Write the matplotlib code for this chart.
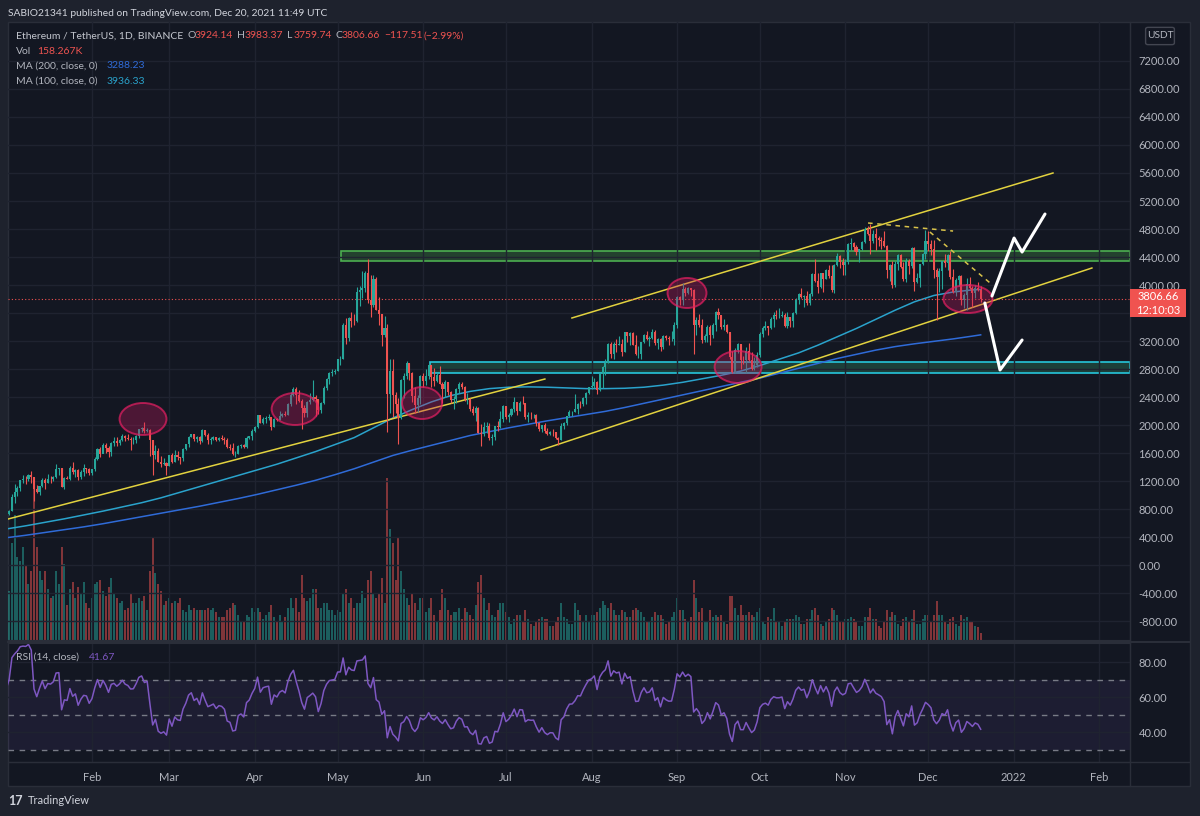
import numpy as np
import pandas as pd
import matplotlib
matplotlib.use('Agg')
import matplotlib.pyplot as plt
import matplotlib.dates as mdates
from matplotlib.patches import Ellipse, Rectangle, FancyBboxPatch
from matplotlib.lines import Line2D

plt.rcParams['font.family'] = ['Lato', 'DejaVu Sans']

# ---------------- data (ETH/USDT daily, Binance, 2021) ----------------
dates = pd.date_range('2021-01-01', '2021-12-20', freq='D')
first_open = 737.0

closes = [
    # Jan
    730, 775, 978, 1041, 1100, 1208, 1225, 1224, 1281, 1262, 1090, 1044, 1130, 1218, 1171, 1233,
    1230, 1257, 1377, 1382, 1121, 1236, 1231, 1391, 1324, 1357, 1253, 1331, 1382, 1377, 1314,
    # Feb
    1369, 1515, 1660, 1593, 1720, 1677, 1614, 1750, 1768, 1744, 1783, 1843, 1814, 1804, 1779, 1782,
    1846, 1937, 1959, 1919, 1935, 1781, 1570, 1626, 1475, 1446, 1459, 1416,
    # Mar
    1565, 1477, 1574, 1540, 1533, 1654, 1724, 1834, 1868, 1798, 1826, 1770, 1924, 1855, 1791, 1806,
    1822, 1782, 1812, 1806, 1783, 1681, 1669, 1583, 1588, 1702, 1716, 1691, 1819, 1846, 1918,
    # Apr
    1977, 2143, 2028, 2093, 2107, 2115, 1971, 2089, 2071, 2135, 2157, 2139, 2300, 2434, 2519, 2431,
    2349, 2238, 2166, 2330, 2362, 2399, 2365, 2209, 2316, 2532, 2662, 2746, 2757, 2772,
    # May
    2945, 2949, 3431, 3240, 3524, 3490, 3483, 3902, 3928, 3952, 4168, 3785, 3715, 4079, 3641, 3586,
    3282, 3381, 2441, 2773, 2428, 2295, 2100, 2643, 2706, 2888, 2737, 2419, 2280, 2387, 2707,
    # Jun
    2634, 2706, 2856, 2689, 2628, 2715, 2589, 2517, 2609, 2472, 2353, 2372, 2508, 2584, 2547, 2368,
    2370, 2232, 2178, 2245, 1888, 1876, 1969, 1990, 1812, 1829, 1982, 1971, 2086, 2275,
    # Jul
    2110, 2150, 2222, 2325, 2197, 2321, 2316, 2116, 2147, 2138, 2140, 2033, 1941, 1995, 1913, 1877,
    1897, 1895, 1819, 1787, 1991, 2026, 2124, 2188, 2191, 2232, 2300, 2298, 2383, 2462, 2537,
    # Aug
    2557, 2608, 2507, 2725, 2827, 2890, 3157, 3013, 3163, 3141, 3164, 3049, 3322, 3266, 3310, 3147,
    3012, 3018, 3182, 3286, 3226, 3241, 3322, 3173, 3225, 3108, 3272, 3242, 3225, 3228, 3430,
    # Sep
    3823, 3786, 3937, 3887, 3952, 3927, 3427, 3496, 3426, 3211, 3266, 3406, 3287, 3429, 3613, 3572,
    3397, 3434, 3330, 2978, 2762, 3077, 3152, 2926, 2925, 3064, 2931, 2806, 2851, 3001,
    # Oct
    3307, 3390, 3418, 3382, 3515, 3577, 3560, 3562, 3576, 3414, 3541, 3491, 3606, 3790, 3866, 3826,
    3848, 3746, 3876, 4155, 4056, 3971, 4170, 4084, 4216, 4130, 3924, 4287, 4414, 4323, 4288,
    # Nov
    4324, 4586, 4603, 4536, 4475, 4518, 4610, 4807, 4730, 4630, 4722, 4666, 4646, 4624, 4563, 4210,
    4287, 3996, 4295, 4424, 4262, 4088, 4339, 4270, 4523, 4040, 4096, 4294, 4444, 4632,
    # Dec
    4582, 4512, 4220, 4118, 4195, 4346, 4308, 4432, 4112, 3894, 4073, 4134, 3780, 3861, 4019, 3963,
    3888, 3958, 3924.14, 3806.66,
]

highs = [
    # Jan
    749, 787, 1011, 1162, 1135, 1210, 1282, 1266, 1300, 1347, 1263, 1150, 1135, 1248, 1250, 1295,
    1266, 1268, 1438, 1393, 1390, 1258, 1273, 1418, 1475, 1365, 1365, 1355, 1437, 1393, 1383,
    # Feb
    1375, 1540, 1665, 1693, 1737, 1738, 1697, 1763, 1824, 1829, 1800, 1871, 1851, 1874, 1825, 1834,
    1863, 1937, 1974, 2041, 1961, 1938, 1782, 1711, 1672, 1559, 1525, 1468,
    # Mar
    1569, 1598, 1650, 1622, 1546, 1669, 1733, 1840, 1875, 1878, 1839, 1840, 1947, 1932, 1887, 1834,
    1838, 1834, 1832, 1859, 1822, 1814, 1724, 1740, 1625, 1710, 1730, 1726, 1838, 1850, 1943,
    # Apr
    1993, 2150, 2145, 2110, 2129, 2152, 2117, 2100, 2100, 2198, 2165, 2206, 2320, 2470, 2545, 2547,
    2496, 2365, 2290, 2350, 2460, 2646, 2422, 2368, 2334, 2554, 2675, 2760, 2798, 2797,
    # May
    2950, 2985, 3458, 3531, 3541, 3610, 3590, 3965, 3982, 4200, 4195, 4372, 4148, 4140, 4120, 3835,
    3590, 3560, 3438, 2950, 2939, 2477, 2380, 2660, 2750, 2912, 2892, 2764, 2540, 2435, 2720,
    # Jun
    2738, 2799, 2890, 2857, 2817, 2743, 2845, 2620, 2640, 2620, 2490, 2410, 2525, 2620, 2613, 2557,
    2455, 2385, 2272, 2274, 2255, 2018, 2048, 2040, 2024, 1869, 1990, 2064, 2200, 2284,
    # Jul
    2275, 2165, 2238, 2400, 2325, 2348, 2410, 2320, 2190, 2190, 2160, 2155, 2045, 2005, 2033, 1962,
    1920, 1940, 1900, 1825, 2030, 2045, 2130, 2215, 2195, 2444, 2315, 2343, 2398, 2469, 2550,
    # Aug
    2700, 2665, 2630, 2750, 2840, 2950, 3170, 3185, 3180, 3230, 3275, 3235, 3331, 3330, 3330, 3335,
    3290, 3130, 3185, 3300, 3340, 3275, 3375, 3355, 3250, 3250, 3280, 3290, 3265, 3340, 3470,
    # Sep
    3840, 3840, 4025, 3970, 3970, 3955, 3945, 3550, 3580, 3510, 3300, 3430, 3430, 3460, 3630, 3675,
    3575, 3520, 3440, 3335, 3060, 3100, 3175, 3160, 2985, 3115, 3170, 3050, 2970, 3050,
    # Oct
    3335, 3420, 3490, 3420, 3545, 3615, 3640, 3675, 3624, 3607, 3615, 3550, 3615, 3815, 3890, 3960,
    3860, 3915, 3880, 4175, 4375, 4170, 4175, 4170, 4235, 4290, 4285, 4300, 4455, 4425, 4390,
    # Nov
    4375, 4600, 4665, 4610, 4565, 4520, 4630, 4825, 4840, 4868, 4780, 4810, 4700, 4690, 4770, 4565,
    4300, 4345, 4340, 4440, 4440, 4330, 4385, 4370, 4550, 4550, 4170, 4300, 4460, 4780,
    # Dec
    4778, 4640, 4650, 4240, 4240, 4350, 4440, 4440, 4480, 4230, 4105, 4150, 4140, 3880, 4100, 4120,
    3990, 4000, 4045, 3983.37,
]

lows = [
    # Jan
    715, 714, 769, 891, 986, 1062, 1168, 1152, 1200, 1167, 920, 1030, 998, 1110, 1083, 1165,
    1170, 1195, 1247, 1285, 1110, 1080, 1227, 1214, 1300, 1253, 1220, 1230, 1265, 1320, 1280,
    # Feb
    1293, 1348, 1505, 1536, 1597, 1606, 1540, 1563, 1705, 1697, 1712, 1769, 1770, 1780, 1650, 1726,
    1741, 1817, 1896, 1880, 1904, 1560, 1293, 1510, 1471, 1400, 1428, 1290,
    # Mar
    1410, 1460, 1475, 1505, 1440, 1485, 1636, 1690, 1827, 1776, 1755, 1730, 1754, 1840, 1727, 1730,
    1780, 1774, 1773, 1780, 1730, 1670, 1650, 1567, 1545, 1586, 1672, 1675, 1678, 1796, 1780,
    # Apr
    1904, 1958, 2023, 2011, 2023, 2074, 1935, 1970, 2052, 2065, 2110, 2126, 2136, 2270, 2420, 2300,
    2325, 1950, 2120, 2110, 2300, 2350, 2130, 2160, 2170, 2305, 2506, 2580, 2700, 2724,
    # May
    2765, 2860, 2944, 3157, 3206, 3400, 3430, 3470, 3700, 3810, 3900, 3750, 3550, 3690, 3640, 3423,
    3132, 3260, 1900, 2170, 2108, 2170, 1728, 2080, 2380, 2660, 2645, 2330, 2172, 2180, 2303,
    # Jun
    2540, 2570, 2660, 2550, 2556, 2615, 2580, 2320, 2400, 2430, 2311, 2230, 2310, 2454, 2520, 2345,
    2300, 2202, 2140, 2058, 1882, 1700, 1850, 1880, 1790, 1720, 1785, 1920, 1960, 2050,
    # Jul
    2090, 2050, 2128, 2180, 2145, 2197, 2300, 2085, 2047, 2090, 2095, 1985, 1920, 1900, 1885, 1852,
    1860, 1850, 1800, 1718, 1787, 1950, 2000, 2110, 2130, 2180, 2156, 2236, 2270, 2302, 2440,
    # Aug
    2515, 2525, 2450, 2490, 2530, 2720, 2880, 2960, 2950, 3050, 3140, 2980, 3040, 3180, 3150, 3140,
    2998, 2960, 2950, 3165, 3210, 3130, 3230, 3145, 3080, 3060, 3080, 3220, 3150, 3200, 3150,
    # Sep
    3385, 3720, 3720, 3837, 3870, 3840, 3010, 3280, 3400, 3170, 3180, 3190, 3150, 3245, 3350, 3520,
    3370, 3360, 3310, 2937, 2740, 2740, 3030, 2800, 2875, 2740, 2920, 2790, 2790, 2835,
    # Oct
    2970, 3260, 3360, 3280, 3365, 3395, 3510, 3530, 3540, 3395, 3390, 3400, 3400, 3590, 3730, 3820,
    3680, 3720, 3720, 3850, 4040, 3885, 3960, 3900, 4080, 4105, 3905, 3890, 4265, 4245, 4150,
    # Nov
    4150, 4300, 4500, 4490, 4435, 4330, 4500, 4600, 4710, 4450, 4600, 4500, 4560, 4520, 4540, 4100,
    4060, 3960, 3970, 4210, 4250, 4060, 4050, 4160, 4250, 3920, 4030, 3970, 4280, 4365,
    # Dec
    4490, 4430, 4100, 3500, 3900, 3950, 4260, 4220, 4090, 3880, 3840, 3980, 3715, 3670, 3650, 3950,
    3680, 3810, 3920, 3759.74,
]

# volume, thousands of ETH
volumes = [
    # Jan
    700, 1050, 2100, 2700, 1800, 1700, 2000, 1600, 1200, 1500, 3500, 2000, 1500, 1300, 1500, 1100,
    900, 950, 1500, 1200, 2000, 1650, 750, 1100, 1250, 900, 1150, 1000, 1250, 800, 700,
    # Feb
    900, 1200, 1250, 1300, 1050, 950, 1150, 1350, 1000, 900, 800, 850, 650, 700, 1000, 800,
    800, 900, 850, 950, 650, 1500, 2200, 1450, 1200, 1050, 750, 850,
    # Mar
    900, 800, 850, 800, 900, 650, 600, 750, 650, 700, 650, 650, 650, 650, 700, 650,
    700, 600, 500, 500, 500, 650, 700, 800, 750, 550, 400, 400, 550, 500, 700,
    # Apr
    600, 700, 600, 450, 550, 600, 750, 500, 400, 550, 400, 500, 700, 900, 700, 900,
    600, 1400, 900, 850, 900, 1100, 1100, 700, 700, 800, 800, 650, 650, 550,
    # May
    650, 600, 1000, 1100, 800, 900, 700, 800, 800, 1050, 900, 1300, 1500, 1000, 900, 1000,
    1350, 800, 3500, 2400, 2100, 1300, 2200, 1500, 1100, 900, 750, 1000, 800, 650, 900,
    # Jun
    900, 600, 700, 900, 550, 400, 650, 1100, 900, 650, 550, 600, 600, 700, 450, 700,
    600, 550, 450, 750, 1250, 1400, 900, 650, 800, 550, 500, 650, 800, 800,
    # Jul
    600, 500, 350, 450, 550, 550, 400, 650, 450, 350, 300, 400, 450, 500, 450, 450,
    300, 300, 400, 500, 800, 500, 450, 350, 350, 800, 650, 550, 400, 550, 400,
    # Aug
    550, 550, 600, 700, 850, 750, 700, 800, 650, 550, 550, 650, 600, 500, 500, 650,
    700, 650, 600, 500, 400, 400, 500, 600, 550, 550, 450, 350, 400, 500, 600,
    # Sep
    900, 650, 650, 450, 400, 500, 1300, 900, 600, 700, 400, 400, 650, 500, 550, 500,
    550, 400, 350, 950, 950, 700, 550, 750, 550, 550, 600, 550, 500, 600,
    # Oct
    700, 400, 350, 500, 450, 700, 400, 400, 300, 400, 450, 450, 450, 550, 500, 350,
    350, 450, 450, 650, 700, 550, 350, 300, 400, 450, 700, 650, 550, 400, 400,
    # Nov
    450, 450, 500, 450, 400, 300, 300, 500, 500, 700, 450, 450, 300, 250, 400, 650,
    500, 600, 550, 350, 300, 450, 500, 400, 450, 650, 350, 350, 450, 550,
    # Dec
    550, 400, 550, 850, 550, 550, 400, 350, 450, 500, 350, 300, 550, 450, 500, 400,
    400, 300, 280, 158.267,
]

# December 2020 closes, only used to warm up the RSI
dec2020_closes = [587, 598, 616, 569, 596, 601, 591, 568, 573, 560, 545, 568, 590, 586, 588, 636,
                  641, 654, 658, 638, 609, 634, 583, 612, 626, 635, 683, 731, 731, 751, 737]

# moving averages, one value per week (+ last bar)
ma_days = list(range(0, 351, 7)) + [353]
ma200 = [390, 425, 465, 505, 545, 590, 640, 690, 740, 790, 840, 895, 950, 1010, 1075, 1140,
         1210, 1290, 1375, 1470, 1565, 1640, 1710, 1780, 1850, 1905, 1960, 2010, 2060, 2105,
         2150, 2195, 2250, 2310, 2370, 2430, 2490, 2550, 2610, 2670, 2740, 2810, 2880, 2950,
         3010, 3070, 3120, 3160, 3195, 3230, 3270, 3288.23]
ma100 = [515, 560, 610, 660, 715, 770, 830, 890, 960, 1040, 1120, 1200, 1280, 1360, 1440, 1530,
         1620, 1720, 1820, 1960, 2100, 2220, 2330, 2420, 2480, 2520, 2540, 2545, 2540, 2530,
         2520, 2520, 2525, 2540, 2570, 2610, 2660, 2710, 2770, 2850, 2940, 3030, 3140, 3260,
         3380, 3510, 3640, 3760, 3850, 3900, 3930, 3936.33]

month_ticks = pd.to_datetime(['2021-02-01', '2021-03-01', '2021-04-01', '2021-05-01', '2021-06-01',
                              '2021-07-01', '2021-08-01', '2021-09-01', '2021-10-01', '2021-11-01',
                              '2021-12-01', '2022-01-01', '2022-02-01'])
month_labels = ['Feb', 'Mar', 'Apr', 'May', 'Jun', 'Jul', 'Aug', 'Sep', 'Oct', 'Nov', 'Dec', '2022', 'Feb']

price_ticks = np.arange(-800, 7201, 400)
last_price = 3806.66

# ---------------- style ----------------
BG = '#131722'
OUTER = '#1e222d'
GRID = '#1f2330'
BORDER = '#2a2e39'
TXT = '#b2b5be'
UP = '#26a69a'
DOWN = '#ef5350'
FS = 7.5

W, H = 1200, 816


def rect(x0, y0, x1, y1):
    return [x0 / W, 1 - y1 / H, (x1 - x0) / W, (y1 - y0) / H]


def ptext(x, y, s, **kw):
    kw.setdefault('va', 'center')
    kw.setdefault('fontsize', FS)
    return fig.text(x / W, 1 - y / H, s, **kw)


fig = plt.figure(figsize=(12, 8.16), dpi=100, facecolor=OUTER)
fig.patches.append(Rectangle((8 / W, 1 - 786 / H), 1182 / W, 764 / H, transform=fig.transFigure,
                             facecolor=BG, edgecolor=BORDER, lw=1, zorder=-5))

x = mdates.date2num(dates)
c = np.array(closes, dtype=float)
o = np.r_[first_open, c[:-1]]
hi = np.array(highs, dtype=float)
lo = np.array(lows, dtype=float)
up = c >= o
col = np.where(up, UP, DOWN)

x0 = mdates.date2num(pd.Timestamp('2021-01-01'))
xlim = (x0 + 0.58, x0 + 407.1)

# volume (own scale, behind the price)
axv = fig.add_axes(rect(8, 22, 1130, 640))
axv.set_facecolor('none')
axv.bar(x, volumes, width=0.72, color=col, alpha=0.5, linewidth=0)
axv.set_ylim(0, 13350)
axv.set_xlim(xlim)
axv.axis('off')

# price panel
ax = fig.add_axes(rect(8, 22, 1130, 640), sharex=axv)
ax.set_facecolor('none')
ax.set_zorder(axv.get_zorder() + 1)
ax.set_ylim(-1071, 7757)
ax.set_xlim(xlim)

ax.vlines(x, lo, hi, colors=col, lw=0.8, zorder=3)
body = np.maximum(np.abs(c - o), 4)
ax.bar(x, body, bottom=np.minimum(o, c), width=0.74, color=col, linewidth=0, zorder=4)

ma_x = x[ma_days]
ax.plot(ma_x, ma200, color='#2f6bd8', lw=1.1, zorder=2)
ax.plot(ma_x, ma100, color='#2aa3cc', lw=1.1, zorder=2)

# drawings
d = lambda k: x0 + k
xr = xlim[1]
ax.add_patch(Rectangle((d(121.2), 4343), xr - d(121.2), 143, facecolor=(0.30, 0.69, 0.31, 0.28),
                       edgecolor='#4caf50', lw=1.2, zorder=1))
ax.add_patch(Rectangle((d(153.5), 2743), xr - d(153.5), 157, facecolor=(0.18, 0.55, 0.40, 0.35),
                       edgecolor='#26c6da', lw=1.2, zorder=1))

yel = '#e2d23f'
ax.plot([d(0.58), d(195.1)], [657, 2657], color=yel, lw=1.1, zorder=2)
ax.plot([d(204.9), d(379.2)], [3529, 5600], color=yel, lw=1.1, zorder=2)
ax.plot([d(193.7), d(393.3)], [1643, 4243], color=yel, lw=1.1, zorder=2)
ax.plot([d(312.2), d(343.0)], [4886, 4771], color='#d8c24a', lw=1.1, ls=(0, (3, 3)), zorder=2)
ax.plot([d(334.6), d(356.4)], [4757, 4029], color='#d8c24a', lw=1.1, ls=(0, (3, 3)), zorder=2)

for cx, cy, w, h in [(49.5, 2086, 17.0, 457), (104.6, 2229, 17.0, 457), (150.6, 2314, 14.5, 457),
                     (246.6, 3886, 14.1, 429), (265.1, 2829, 17.0, 457), (348.4, 3800, 17.8, 400)]:
    ax.add_patch(Ellipse((d(cx), cy), w, h, facecolor=(0.76, 0.09, 0.36, 0.33),
                         edgecolor=(0.91, 0.12, 0.39, 0.7), lw=1.4, zorder=5))

ax.plot([d(357.1), d(365.1), d(368.0), d(376.3)], [3843, 4671, 4471, 5014], color='white', lw=2.2,
        solid_capstyle='round', solid_joinstyle='round', zorder=6)
ax.plot([d(354.5), d(360.0), d(368.0)], [3743, 2786, 3214], color='white', lw=2.2,
        solid_capstyle='round', solid_joinstyle='round', zorder=6)

ax.axhline(last_price, color=DOWN, lw=0.8, ls=(0, (1, 2)), zorder=2)

ax.yaxis.tick_right()
ax.set_yticks(price_ticks)
# the 3600 label sits under the last-price tag
ax.set_yticklabels(['' if v == 3600 else f'{v:.2f}' for v in price_ticks])
ax.tick_params(axis='y', colors=TXT, labelsize=8, length=0, pad=6)
ax.tick_params(axis='x', length=0, labelbottom=False)
ax.set_xticks(month_ticks)
ax.grid(True, color=GRID, lw=1, zorder=0)
for s in ['top', 'left']:
    ax.spines[s].set_visible(False)
for s in ['bottom', 'right']:
    ax.spines[s].set_color(BORDER)

# RSI panel
all_c = np.array(dec2020_closes + closes, dtype=float)
delta = np.diff(all_c)
gain = np.clip(delta, 0, None)
loss = np.clip(-delta, 0, None)
ag, al = gain[:14].mean(), loss[:14].mean()
rsi = np.full(len(all_c), np.nan)
for i in range(14, len(delta)):
    ag = (ag * 13 + gain[i]) / 14
    al = (al * 13 + loss[i]) / 14
    rsi[i + 1] = 100 - 100 / (1 + ag / al)
rsi = rsi[len(dec2020_closes):]

axr = fig.add_axes(rect(8, 643, 1130, 762), sharex=axv)
axr.set_facecolor('none')
axr.set_xlim(xlim)
axr.set_ylim(22.86, 90.86)
axr.axhspan(30, 70, color='#7e57c2', alpha=0.1, lw=0)
for lvl in (70, 50, 30):
    axr.axhline(lvl, color='#787b86', lw=1, ls=(0, (4, 4)))
axr.plot(x, rsi, color='#7e57c2', lw=1.1)
axr.yaxis.tick_right()
axr.set_yticks([40, 60, 80])
axr.set_yticklabels(['40.00', '60.00', '80.00'])
axr.set_xticks(month_ticks)
axr.set_xticklabels(month_labels)
axr.tick_params(axis='y', colors=TXT, labelsize=8, length=0, pad=6)
axr.tick_params(axis='x', colors=TXT, labelsize=8, length=0, pad=7)
axr.grid(True, color=GRID, lw=1)
axr.spines['left'].set_visible(False)
for s in ['top', 'bottom', 'right']:
    axr.spines[s].set_color(BORDER)

# panel borders
fig.add_artist(Line2D([8 / W, 1190 / W], [1 - 641.5 / H] * 2, color=BORDER, lw=1.5))
fig.add_artist(Line2D([8 / W, 1190 / W], [1 - 762 / H] * 2, color=BORDER, lw=1))
fig.add_artist(Line2D([1130 / W] * 2, [1 - 22 / H, 1 - 786 / H], color=BORDER, lw=1))

# current price tag
fig.patches.append(Rectangle((1130 / W, 1 - 317 / H), 56 / W, 28 / H, transform=fig.transFigure,
                             facecolor='#f05350', edgecolor='none', zorder=5))
ptext(1158, 297, '3806.66', color='white', ha='center', fontsize=8, zorder=6)
ptext(1158, 310, '12:10:03', color='white', ha='center', fontsize=8, zorder=6)

# unit box
fig.patches.append(FancyBboxPatch((1148 / W, 1 - 43 / H), 24 / W, 14 / H, transform=fig.transFigure,
                                  boxstyle='round,pad=0.002', facecolor=BG, edgecolor='#434651',
                                  lw=1, zorder=5))
ptext(1160, 36, 'USDT', color=TXT, ha='center', fontsize=7.3, zorder=6)

# header + legend
ptext(8, 13, 'SABIO21341 published on TradingView.com, Dec 20, 2021 11:49 UTC', color='#d1d4dc',
      fontsize=7.4)
ptext(16, 36, 'Ethereum / TetherUS, 1D, BINANCE', color='#c3c6ce')
red = '#ef5350'
for xx, s, cc in [(187, 'O', TXT), (195, '3924.14', red), (237, 'H', TXT), (245, '3983.37', red),
                  (287, 'L', TXT), (294, '3759.74', red), (335, 'C', TXT), (342, '3806.66', red),
                  (384, '\u2212117.51', red), (424, '(\u22122.99%)', red)]:
    ptext(xx, 36, s, color=cc)
ptext(16, 51, 'Vol', color=TXT)
ptext(37, 51, '158.267K', color=red)
ptext(16, 66, 'MA (200, close, 0)', color=TXT)
ptext(107, 66, '3288.23', color='#2f6bd8')
ptext(16, 81, 'MA (100, close, 0)', color=TXT)
ptext(107, 81, '3936.33', color='#2aa3cc')
ptext(16, 657, 'RSI (14, close)', color=TXT)
ptext(89, 657, '41.67', color='#7e57c2')

# logo
ptext(8, 801, '17', color='#d1d4dc', fontsize=9, fontweight='bold')
ptext(28, 801, 'TradingView', color='#d1d4dc', fontsize=8)

fig.savefig('out.png', dpi=100, facecolor=OUTER)
